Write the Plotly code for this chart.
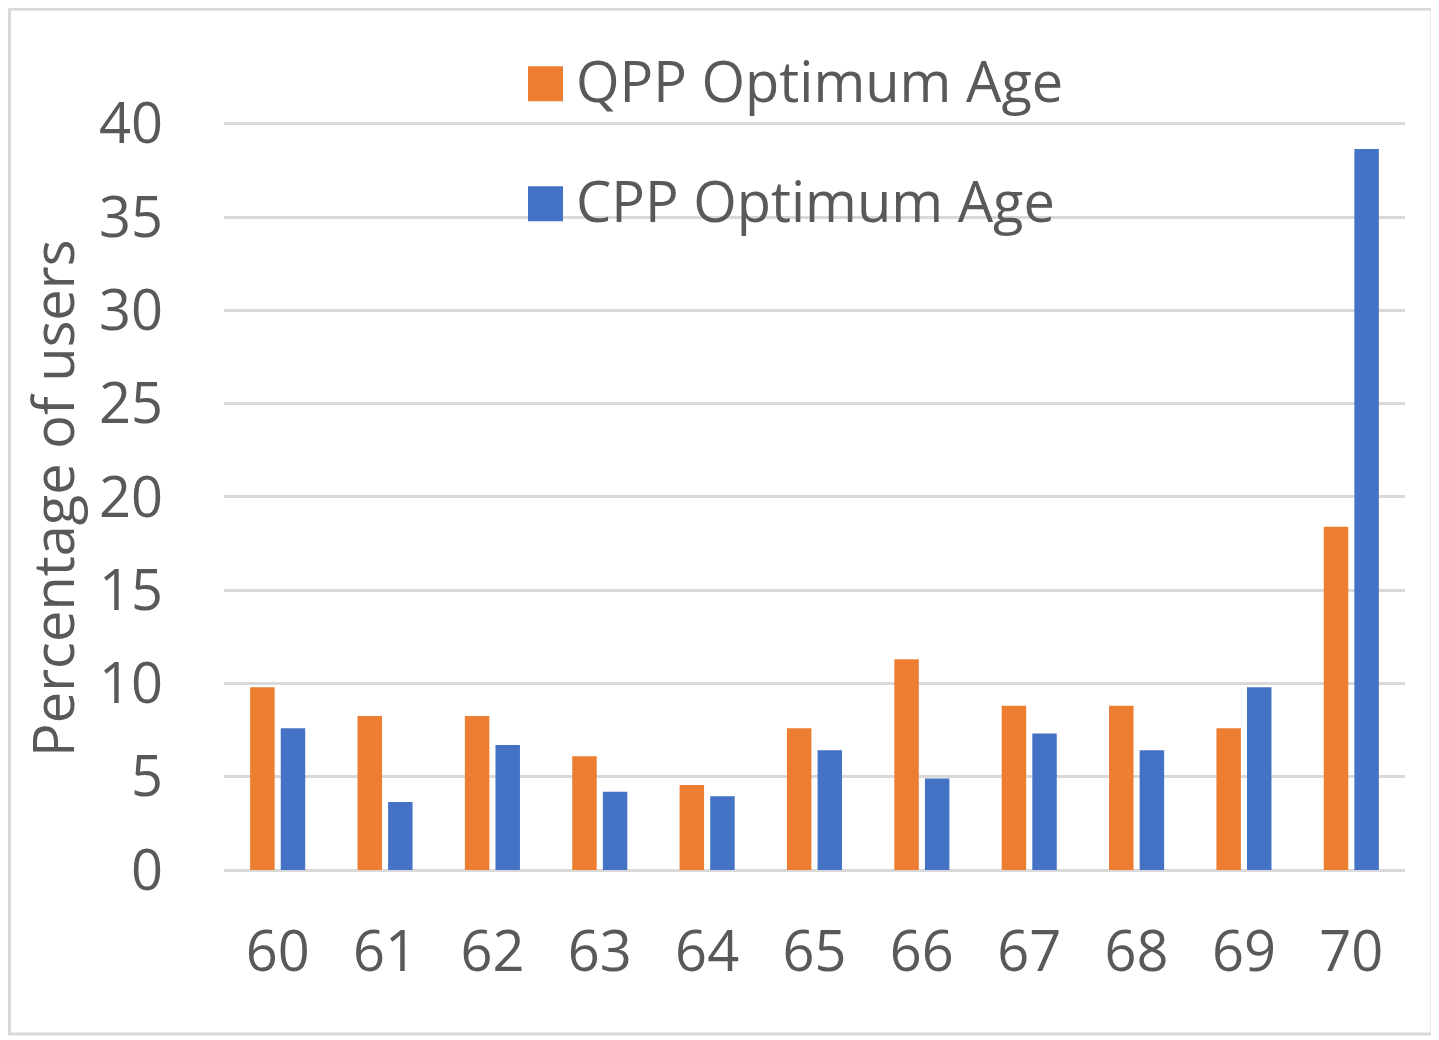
import plotly.graph_objects as go

ages = ["60", "61", "62", "63", "64", "65", "66", "67", "68", "69", "70"]
qpp_values = [9.8, 8.25, 8.25, 6.1, 4.55, 7.6, 11.3, 8.8, 8.8, 7.6, 18.4]
cpp_values = [7.6, 3.65, 6.7, 4.2, 3.95, 6.42, 4.9, 7.32, 6.42, 9.8, 38.65]
series_names = ["QPP Optimum Age", "CPP Optimum Age"]
series_colors = ["#ED7D31", "#4472C4"]
y_ticks = [0, 5, 10, 15, 20, 25, 30, 35, 40]

# the page body adds an 8px margin, so figure coords = screen coords - 8
OFF = 8
W, H = 1431, 1032
Y_MAX = 40.15
UNIT = 18.65
plot_left, plot_right = 224 - OFF, 1405 - OFF
plot_bottom = 870 - OFF
plot_top = plot_bottom - Y_MAX * UNIT
L, R = plot_left, W - plot_right
T, B = plot_top, H - plot_bottom
PW, PH = plot_right - plot_left, plot_bottom - plot_top
FONT = "Open Sans, Lato, sans-serif"
TXT = "#595959"


def px_x(p):
    return (p - OFF - L) / PW


def px_y(p):
    return (plot_bottom - (p - OFF)) / PH


fig = go.Figure()
for name, vals, col in zip(series_names, [qpp_values, cpp_values], series_colors):
    fig.add_trace(go.Bar(x=ages, y=vals, name=name, marker=dict(color=col, line=dict(width=0)),
                         showlegend=False))

fig.update_layout(
    width=W, height=H,
    margin=dict(l=L, r=R, t=T, b=B, autoexpand=False),
    paper_bgcolor="white", plot_bgcolor="white",
    barmode="group", bargap=0.43, bargroupgap=0.2,
    font=dict(family=FONT, color=TXT, size=56),
)
fig.update_xaxes(type="category", range=[-0.5, 10.5], showgrid=False, zeroline=False,
                 showline=False, ticks="", tickfont=dict(size=56, color=TXT),
                 ticklabelstandoff=44, automargin=False)
fig.update_yaxes(range=[0, Y_MAX], tickvals=y_ticks, showgrid=True, gridcolor="#d9d9d9",
                 gridwidth=2.5, zeroline=True, zerolinecolor="#d9d9d9", zerolinewidth=2.5,
                 showline=False, ticks="", tickfont=dict(size=56, color=TXT),
                 ticklabelstandoff=60, automargin=False)

# y-axis title
fig.add_annotation(text="Percentage of users", textangle=-90, xref="paper", yref="paper",
                   x=px_x(52), y=px_y(499), xanchor="center", yanchor="middle",
                   showarrow=False, font=dict(size=56, color=TXT, family=FONT))

# custom legend
legend_rows = [84, 204]
for name, col, cy in zip(series_names, series_colors, legend_rows):
    fig.add_shape(type="rect", xref="paper", yref="paper",
                  x0=px_x(528), x1=px_x(563), y0=px_y(cy - 17.5), y1=px_y(cy + 17.5),
                  fillcolor=col, line=dict(width=0))
    fig.add_annotation(text=name, xref="paper", yref="paper", x=px_x(574), y=px_y(cy - 4),
                       xanchor="left", yanchor="middle", showarrow=False,
                       font=dict(size=56, color=TXT, family=FONT))

# outer border
fig.add_shape(type="rect", xref="paper", yref="paper",
              x0=px_x(OFF + 1.5), x1=px_x(1432), y0=px_y(1034), y1=px_y(OFF + 1.5),
              line=dict(color="#d9d9d9", width=3), fillcolor="rgba(0,0,0,0)", layer="below")

fig.write_html("out.html")
